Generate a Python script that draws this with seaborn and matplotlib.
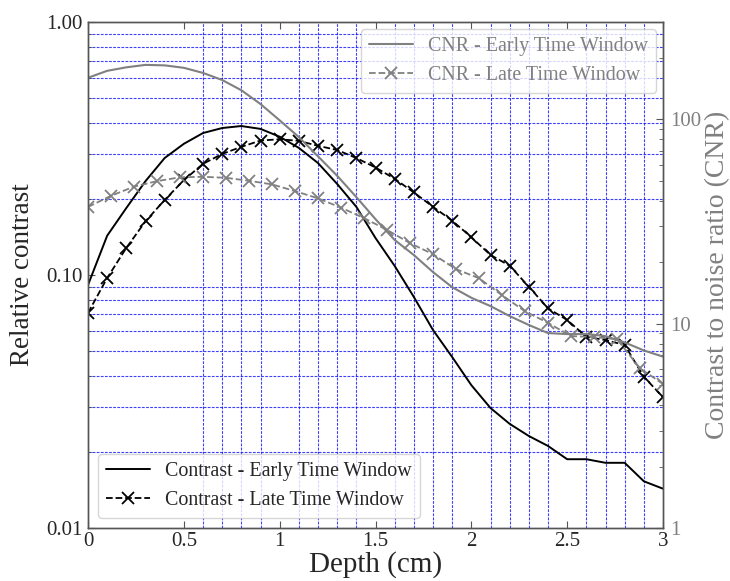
import matplotlib
matplotlib.use("Agg")
import matplotlib.pyplot as plt
import numpy as np
import pandas as pd
import seaborn as sns
from matplotlib.ticker import FixedLocator, LogLocator, NullFormatter, FixedFormatter

# depth grid (cm)
depth = [0.0, 0.1, 0.2, 0.3, 0.4, 0.5, 0.6, 0.7, 0.8, 0.9, 1.0,
         1.1, 1.2, 1.3, 1.4, 1.5, 1.6, 1.7, 1.8, 1.9, 2.0,
         2.1, 2.2, 2.3, 2.4, 2.5, 2.6, 2.7, 2.8, 2.9, 3.0]

contrast_early = [0.0913, 0.143, 0.184, 0.235, 0.290, 0.330, 0.364, 0.381, 0.388, 0.378, 0.352,
                  0.318, 0.277, 0.229, 0.186, 0.140, 0.1086, 0.0819, 0.0606, 0.0474, 0.0367,
                  0.0298, 0.0258, 0.0231, 0.0211, 0.0187, 0.0187, 0.0181, 0.0181, 0.0153, 0.0143]

contrast_late = [0.0708, 0.0973, 0.128, 0.163, 0.198, 0.237, 0.275, 0.301, 0.321, 0.340, 0.344,
                 0.339, 0.324, 0.312, 0.290, 0.266, 0.240, 0.212, 0.186, 0.164, 0.141,
                 0.120, 0.1088, 0.0899, 0.0738, 0.0664, 0.0570, 0.0553, 0.0529, 0.0396, 0.0329]

cnr_early = [160, 173, 180, 185, 184, 179, 169, 156, 139, 119, 99,
             82, 66, 53, 41.7, 32.5, 25.7, 21.7, 17.9, 15.1, 13.4,
             12.2, 10.9, 9.86, 9.0, 8.9, 8.9, 8.7, 8.1, 7.4, 6.9]

# late-window CNR sampled every 0.12 cm
depth_late_cnr = [0.00, 0.12, 0.24, 0.36, 0.48, 0.60, 0.72, 0.84, 0.96, 1.08, 1.20, 1.32, 1.44,
                  1.56, 1.68, 1.80, 1.92, 2.04, 2.16, 2.28, 2.40, 2.52, 2.64, 2.76, 2.88, 3.00]
cnr_late = [37.3, 42.3, 46.9, 49.9, 52.1, 52.4, 51.8, 50.1, 48.1, 44.6, 41.1, 37.0, 32.9,
            28.8, 24.8, 21.9, 18.5, 16.7, 13.8, 11.5, 10.1, 8.7, 8.6, 8.4, 6.05, 5.07]

x_ticks = [0, 0.5, 1, 1.5, 2, 2.5, 3]
x_ticklabels = ["0", "0.5", "1", "1.5", "2", "2.5", "3"]
x_grid = [0.6, 0.7, 0.8, 0.9, 1.0, 1.1, 1.2, 1.3, 1.4, 1.6, 1.7, 1.8, 1.9, 2.0,
          2.1, 2.2, 2.3, 2.4, 2.6, 2.7, 2.8, 2.9]

sns.set_style("ticks")
plt.rcParams["font.family"] = ["Liberation Serif", "DejaVu Serif"]

GRAY = "#808080"
SPINE = "#555555"

df_c = pd.DataFrame({"depth": depth, "early": contrast_early, "late": contrast_late, "cnr_early": cnr_early})
df_l = pd.DataFrame({"depth": depth_late_cnr, "cnr_late": cnr_late})

fig = plt.figure(figsize=(7.3, 5.81), dpi=100)
ax = fig.add_axes([88 / 730, 53 / 581, 575 / 730, 506 / 581])
ax2 = ax.twinx()

sns.lineplot(data=df_c, x="depth", y="early", ax=ax, color="black", lw=1.4,
             label="Contrast - Early Time Window")
sns.lineplot(data=df_c, x="depth", y="late", ax=ax, color="black", lw=1.3, ls="--",
             marker="x", markersize=8, markeredgewidth=1.3, markeredgecolor="black",
             label="Contrast - Late Time Window")

sns.lineplot(data=df_c, x="depth", y="cnr_early", ax=ax2, color=GRAY, lw=1.5,
             label="CNR - Early Time Window")
sns.lineplot(data=df_l, x="depth", y="cnr_late", ax=ax2, color=GRAY, lw=1.3, ls="--",
             marker="x", markersize=8, markeredgewidth=1.3, markeredgecolor=GRAY,
             label="CNR - Late Time Window")

ax.set_xlim(0, 3)
ax.set_yscale("log")
ax.set_ylim(0.01, 1)
ax2.set_yscale("log")
ax2.set_ylim(1, 300)

ax.xaxis.set_major_locator(FixedLocator(x_ticks))
ax.xaxis.set_major_formatter(FixedFormatter(x_ticklabels))
ax.xaxis.set_minor_locator(FixedLocator(x_grid))
ax.yaxis.set_major_locator(FixedLocator([0.01, 0.1, 1]))
ax.yaxis.set_major_formatter(FixedFormatter(["0.01", "0.10", "1.00"]))
ax.yaxis.set_minor_locator(LogLocator(base=10, subs=np.arange(2, 10)))
ax.yaxis.set_minor_formatter(NullFormatter())

ax2.yaxis.set_major_locator(FixedLocator([1, 10, 100]))
ax2.yaxis.set_major_formatter(FixedFormatter(["1", "10", "100"]))
ax2.yaxis.set_minor_locator(LogLocator(base=10, subs=np.arange(2, 10)))
ax2.yaxis.set_minor_formatter(NullFormatter())

ax.grid(False)
ax.grid(True, which="minor", color="blue", ls=(0, (2.5, 1.2)), lw=0.8, alpha=0.75)

ax.tick_params(axis="x", which="major", direction="in", top=True, length=5,
               color=SPINE, labelsize=15, pad=3)
ax.tick_params(axis="x", which="minor", length=0)
ax.tick_params(axis="y", which="major", direction="in", length=5, color=SPINE,
               labelsize=15, right=False, pad=4)
ax.tick_params(axis="y", which="minor", direction="in", length=3, color=SPINE, right=False)
ax2.tick_params(axis="y", which="major", direction="in", length=5, color=SPINE,
                labelsize=15, labelcolor=GRAY, pad=5)
ax2.tick_params(axis="y", which="minor", direction="in", length=3, color=SPINE)

for a in (ax, ax2):
    for s in a.spines.values():
        s.set_color(SPINE)
        s.set_linewidth(1.0)

ax.set_xlabel("Depth (cm)", fontsize=21, labelpad=0)
ax.set_ylabel("Relative contrast", fontsize=19.5, labelpad=8)
ax2.set_ylabel("Contrast to noise ratio (CNR)", fontsize=20, color=GRAY, labelpad=3)

leg1 = ax.legend(loc="lower left", fontsize=14.4, frameon=True, fancybox=True,
                 framealpha=0.8, edgecolor="#cccccc", handlelength=2.2,
                 handletextpad=0.75, borderaxespad=0.5)
leg2 = ax2.legend(loc="upper right", fontsize=14.4, frameon=True, fancybox=True,
                  framealpha=0.8, edgecolor="#cccccc", handlelength=2.2,
                  handletextpad=0.75, borderaxespad=0.35)
for t in leg2.get_texts():
    t.set_color(GRAY)

fig.savefig("out.png", dpi=100)
